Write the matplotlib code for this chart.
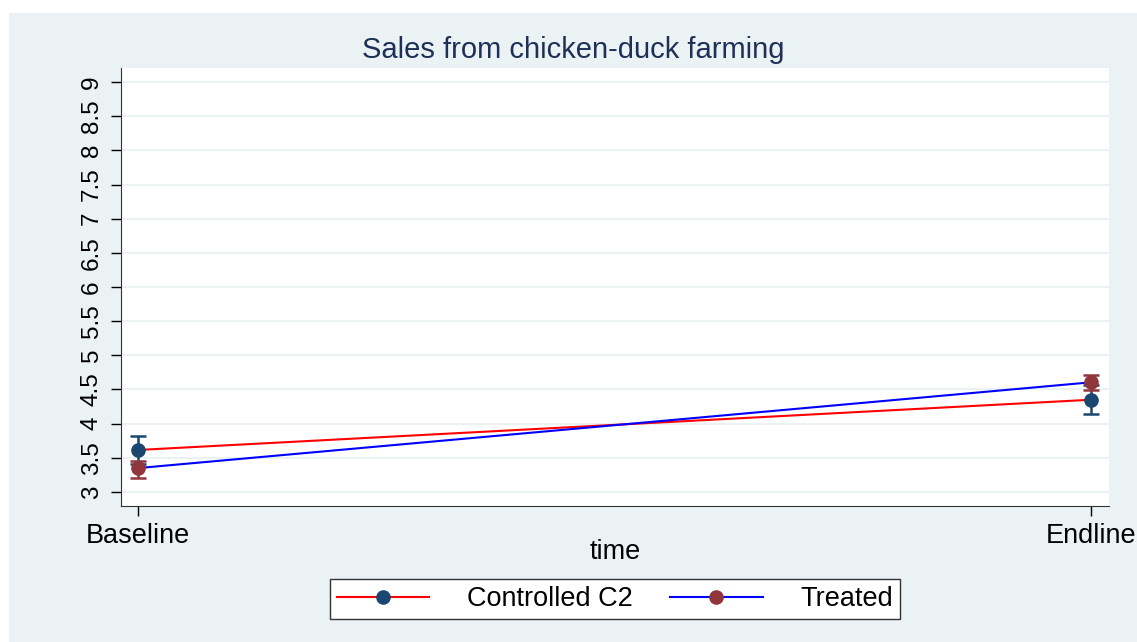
import matplotlib
matplotlib.use("Agg")
import matplotlib.pyplot as plt
from matplotlib.patches import Rectangle
from matplotlib.lines import Line2D

plt.rcParams['font.family'] = ['Liberation Sans', 'DejaVu Sans']

# data
periods = ["Baseline", "Endline"]
control_mean = [3.615, 4.35]
control_lo = [3.41, 4.14]
control_hi = [3.82, 4.56]
treated_mean = [3.35, 4.605]
treated_lo = [3.205, 4.49]
treated_hi = [3.45, 4.71]
yticks = [3, 3.5, 4, 4.5, 5, 5.5, 6, 6.5, 7, 7.5, 8, 8.5, 9]

bg = "#eaf2f3"
navy = "#1a476f"
maroon = "#90353b"

fig = plt.figure(figsize=(11.37, 6.42), dpi=100)
fig.patch.set_facecolor("white")
fig.patches.append(Rectangle((9 / 1137, 0), 1, 1 - 13 / 642, transform=fig.transFigure,
                             facecolor=bg, edgecolor="none", zorder=-10))

ax = fig.add_axes([121 / 1137, 1 - 506 / 642, (1109 - 121) / 1137, (506 - 68) / 642])
ax.set_facecolor("white")

x = list(range(len(periods)))

ax.plot(x, control_mean, color="red", lw=1.5, zorder=3)
ax.plot(x, treated_mean, color="blue", lw=1.5, zorder=3)

for means, lo, hi, col in [(control_mean, control_lo, control_hi, navy),
                           (treated_mean, treated_lo, treated_hi, maroon)]:
    err = [[m - l for m, l in zip(means, lo)], [h - m for m, h in zip(means, hi)]]
    ax.errorbar(x, means, yerr=err, fmt="o", color=col, ms=9.5, capsize=5.5,
                elinewidth=1.8, capthick=1.8, zorder=4)

ax.set_xlim(-0.018, 1.019)
ax.set_ylim(2.795, 9.205)
ax.set_yticks(yticks)
ax.set_yticklabels([f"{v:g}" for v in yticks], rotation=90, va="center", fontsize=17.5)
ax.set_xticks(x)
ax.set_xticklabels(periods, fontsize=19.5)
ax.tick_params(axis="y", length=7, width=1, pad=6)
ax.tick_params(axis="x", length=7, width=1, pad=5)
ax.yaxis.grid(True, color=bg, lw=1.5)
ax.set_axisbelow(True)
for s in ["top", "right"]:
    ax.spines[s].set_visible(False)
for s in ["left", "bottom"]:
    ax.spines[s].set_color("#333333")

ax.set_xlabel("time", fontsize=19.5)
ax.xaxis.set_label_coords(0.5, -(552 - 506) / (506 - 68))
ax.xaxis.label.set_va("center")

fig.text(573 / 1137, 1 - 50 / 642, "Sales from chicken-duck farming", ha="center", va="center",
         fontsize=21, color="#1e2f58")

handles = [Line2D([], [], color="red", lw=1.5, marker="o", mfc=navy, mec=navy, ms=9.5),
           Line2D([], [], color="blue", lw=1.5, marker="o", mfc=maroon, mec=maroon, ms=9.5)]
leg = fig.legend(handles, ["Controlled C2", "Treated"], loc="center",
                 bbox_to_anchor=(615 / 1137, 1 - 599 / 642), ncol=2, fontsize=19.5,
                 handlelength=3.4, handletextpad=1.4, columnspacing=1.4,
                 fancybox=False, framealpha=1, edgecolor="#333333",
                 borderpad=0.25, borderaxespad=0)
leg.get_frame().set_linewidth(1.0)

fig.savefig("out.png", dpi=100, facecolor=fig.get_facecolor())
